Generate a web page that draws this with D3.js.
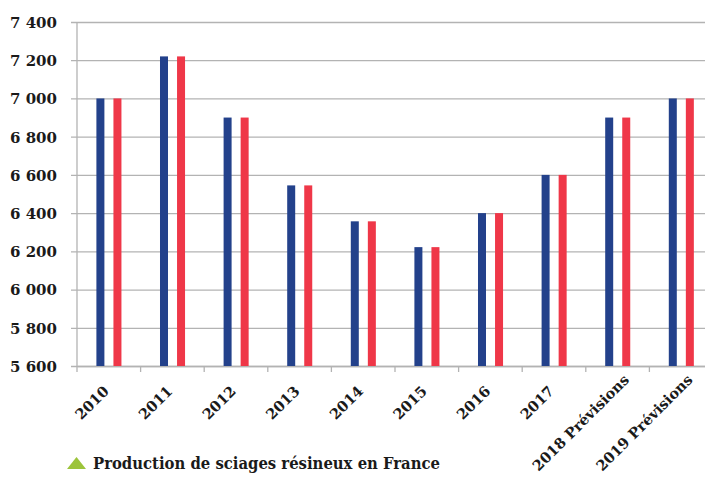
<!DOCTYPE html>
<html>
<head>
<meta charset="utf-8">
<script src="https://cdn.jsdelivr.net/npm/d3@7"></script>
<style>
  body { margin: 0; background: #fff; }
  svg { display: block; }
  text { font-family: "DejaVu Serif", serif; font-weight: bold; fill: #1a1a1a; }
</style>
</head>
<body>
<div class="plot"></div>
<script>
// categories and values
let categories = ["2010", "2011", "2012", "2013", "2014", "2015", "2016", "2017", "2018 Prévisions", "2019 Prévisions"]
let seriesBlue = [7000, 7220, 6900, 6545, 6357, 6222, 6400, 6600, 6900, 7000]
let seriesRed  = [7000, 7220, 6900, 6545, 6357, 6222, 6400, 6600, 6900, 7000]
let yTicks = [5600, 5800, 6000, 6200, 6400, 6600, 6800, 7000, 7200, 7400]
let legendLabel = "Production de sciages résineux en France"

let width = 705, height = 479
let margin = {top: 22, left: 77, bottom: 366}
let plotRight = 713

let svg = d3.select(".plot").append("svg")
    .attr("width", width)
    .attr("height", height)

let x0 = d3.scaleBand()
    .domain(categories)
    .range([margin.left, plotRight])
let y = d3.scaleLinear()
    .domain([5600, 7400])
    .range([margin.bottom, margin.top])

// gridlines + y labels
let yAxis = d3.axisLeft(y)
    .tickValues(yTicks)
    .tickSize(-(plotRight - margin.left))
    .tickPadding(20)
    .tickFormat(d => d3.format(",")(d).replace(",", " "))
let gy = svg.append("g")
    .attr("transform", "translate(" + margin.left + ",0)")
    .call(yAxis)
gy.select(".domain").remove()
gy.selectAll(".tick line")
    .attr("x1", -6)
    .attr("stroke", "#b3b3b3")
    .attr("stroke-width", 1.3)
gy.selectAll(".tick text")
    .attr("font-size", 15)
    .attr("dy", "0.36em")
    .style("font-family", "'DejaVu Serif', serif")
    .style("font-weight", "bold")

// vertical axis line
svg.append("line")
    .attr("x1", margin.left).attr("x2", margin.left)
    .attr("y1", margin.top).attr("y2", margin.bottom)
    .attr("stroke", "#b3b3b3").attr("stroke-width", 1.3)

// x axis
let xAxis = d3.axisBottom(x0).tickSize(0).tickFormat("")
let gx = svg.append("g")
    .attr("transform", "translate(0," + margin.bottom + ")")
    .call(xAxis)
gx.select(".domain").attr("stroke", "#b3b3b3").attr("stroke-width", 1.3)
// category boundary ticks
let bounds = categories.map(c => x0(c))
svg.selectAll(".xtick")
    .data(bounds)
    .enter().append("line")
    .attr("class", "xtick")
    .attr("x1", d => d).attr("x2", d => d)
    .attr("y1", margin.bottom).attr("y2", margin.bottom + 6)
    .attr("stroke", "#b3b3b3").attr("stroke-width", 1.3)

// bars
let barW = 8
let data = categories.map((c, i) => ({cat: c, blue: seriesBlue[i], red: seriesRed[i]}))
svg.selectAll(".bar-blue")
    .data(data)
    .enter().append("rect")
    .attr("class", "bar-blue")
    .attr("x", d => x0(d.cat) + x0.bandwidth() * 0.305)
    .attr("width", barW)
    .attr("y", d => y(d.blue))
    .attr("height", d => y(5600) - y(d.blue))
    .attr("fill", "#23418b")
svg.selectAll(".bar-red")
    .data(data)
    .enter().append("rect")
    .attr("class", "bar-red")
    .attr("x", d => x0(d.cat) + x0.bandwidth() * 0.573)
    .attr("width", barW)
    .attr("y", d => y(d.red))
    .attr("height", d => y(5600) - y(d.red))
    .attr("fill", "#ef3748")

// rotated category labels, pushed up along their direction when too long to fit
let labelBottom = 472
svg.selectAll(".xlabel")
    .data(categories)
    .enter().append("text")
    .attr("class", "xlabel")
    .attr("font-size", 14.5)
    .attr("text-anchor", "end")
    .text(d => d)
    .each(function(d) {
      let L = this.getComputedTextLength()
      let px = x0(d) + x0.bandwidth() / 2 + 1
      let py = margin.bottom + 26
      let bottom = py + L * Math.SQRT1_2
      if (bottom > labelBottom) {
        let s = bottom - labelBottom
        px += s
        py -= s
      }
      d3.select(this).attr("transform", "translate(" + px + "," + py + ") rotate(-45)")
    })

// legend
let lg = svg.append("g").attr("transform", "translate(67,469)")
lg.append("path")
    .attr("d", "M0,0 L9.5,-12 L19,0 Z")
    .attr("fill", "#9cc43b")
lg.append("text")
    .attr("x", 26)
    .attr("y", 0)
    .attr("font-size", 16)
    .attr("textLength", 347)
    .attr("lengthAdjust", "spacingAndGlyphs")
    .text(legendLabel)
</script>
</body>
</html>
